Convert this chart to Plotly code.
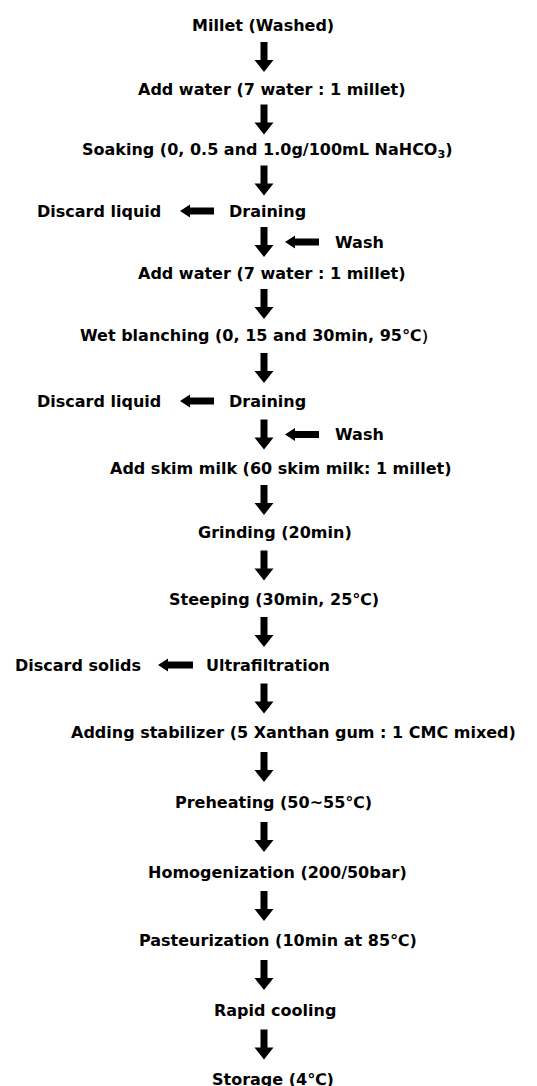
import plotly.graph_objects as go

# ---- content (flowchart steps) ----
steps = [
    "Millet (Washed)",
    "Add water (7 water : 1 millet)",
    "Soaking (0, 0.5 and 1.0g/100mL NaHCO<sub>3</sub>)",
    "Draining",
    "Add water (7 water : 1 millet)",
    "Wet blanching (0, 15 and 30min, 95℃）",
    "Draining",
    "Add skim milk (60 skim milk: 1 millet)",
    "Grinding (20min)",
    "Steeping (30min, 25℃)",
    "Ultrafiltration",
    "Adding stabilizer (5 Xanthan gum : 1 CMC mixed)",
    "Preheating (50~55℃)",
    "Homogenization (200/50bar)",
    "Pasteurization (10min at 85℃)",
    "Rapid cooling",
    "Storage (4℃)",
]
# side outputs: (step index, label)
outputs = [(3, "Discard liquid"), (6, "Discard liquid"), (10, "Discard solids")]
# side inputs entering the arrow after step index
inputs = [(3, "Wash"), (6, "Wash")]

# ---- layout (pixel-like coordinates) ----
W, H = 537, 1086
step_y = [25, 89, 150, 211, 273, 335, 401, 468, 532, 599, 665, 732, 802, 872, 940, 1010, 1079]
step_x = [263, 272, 267, 267, 272, 258, 267, 281, 275, 274, 268, 293, 273, 277, 278, 275, 273]
arrow_x = 264
out_text_x = {3: 99, 6: 99, 10: 78}
out_arrow = {3: (214, 180), 6: (214, 180), 10: (193, 158)}
in_text_x = 333
in_arrow = (319, 285)

FONT = dict(family="DejaVu Sans, Liberation Sans, Arial", size=16, color="black", weight="bold")

fig = go.Figure()
fig.add_trace(go.Scatter(x=[0, W], y=[0, H], mode="markers", marker=dict(opacity=0), hoverinfo="skip", showlegend=False))

annotations = []
shapes = []

for lbl, x, y in zip(steps, step_x, step_y):
    annotations.append(dict(x=x, y=y, text=lbl, showarrow=False, xanchor="center", yanchor="middle", font=FONT))


def down_arrow(cx, y0, y1, sw=3.5, hw=9.5, hl=12):
    return (f"M {cx-sw},{y0} L {cx+sw},{y0} L {cx+sw},{y1-hl} L {cx+hw},{y1-hl} "
            f"L {cx},{y1} L {cx-hw},{y1-hl} L {cx-sw},{y1-hl} Z")


def left_arrow(x0, x1, cy, sw=3.5, hw=6.5, hl=10):
    return (f"M {x0},{cy-sw} L {x0},{cy+sw} L {x1+hl},{cy+sw} L {x1+hl},{cy+hw} "
            f"L {x1},{cy} L {x1+hl},{cy-hw} L {x1+hl},{cy-sw} Z")


for i in range(len(steps) - 1):
    mid = (step_y[i] + step_y[i + 1]) / 2
    shapes.append(dict(type="path", path=down_arrow(arrow_x, mid - 15, mid + 15),
                       fillcolor="black", line=dict(width=0), xref="x", yref="y"))

for idx, lbl in outputs:
    y = step_y[idx]
    annotations.append(dict(x=out_text_x[idx], y=y, text=lbl, showarrow=False,
                            xanchor="center", yanchor="middle", font=FONT))
    x0, x1 = out_arrow[idx]
    shapes.append(dict(type="path", path=left_arrow(x0, x1, y), fillcolor="black",
                       line=dict(width=0), xref="x", yref="y"))

for idx, lbl in inputs:
    y = (step_y[idx] + step_y[idx + 1]) / 2
    annotations.append(dict(x=in_text_x, y=y, text=lbl, showarrow=False,
                            xanchor="left", yanchor="middle", font=FONT))
    x0, x1 = in_arrow
    shapes.append(dict(type="path", path=left_arrow(x0, x1, y), fillcolor="black",
                       line=dict(width=0), xref="x", yref="y"))

fig.update_layout(
    width=W, height=H,
    margin=dict(l=0, r=0, t=0, b=0),
    paper_bgcolor="white", plot_bgcolor="white",
    xaxis=dict(range=[0, W], visible=False, fixedrange=True),
    yaxis=dict(range=[H, 0], visible=False, fixedrange=True),
    annotations=annotations, shapes=shapes, showlegend=False,
)

fig.write_html("out.html", config={"displayModeBar": False},
               post_script="document.body.style.margin='0';document.body.style.overflow='hidden';")
